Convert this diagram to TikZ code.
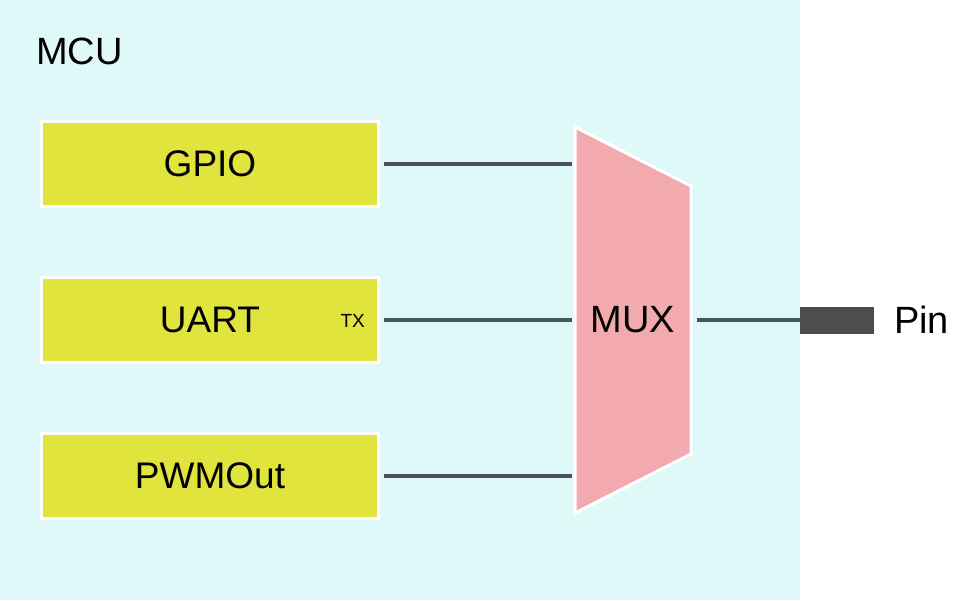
\documentclass[tikz,border=0pt]{standalone}
\usepackage{fontspec}
\setmainfont{Liberation Sans}
\definecolor{bgcyan}{RGB}{223,248,248}
\definecolor{blkyellow}{RGB}{225,228,60}
\definecolor{muxpink}{RGB}{242,170,175}
\definecolor{wire}{RGB}{74,82,94}
\definecolor{pingray}{RGB}{77,77,77}
\begin{document}
\begin{tikzpicture}[x=1pt,y=-1pt,
  blockbox/.style={draw=white,line width=3pt,fill=blkyellow,minimum width=337pt,minimum height=85pt,inner sep=0pt,font=\fontsize{37}{40}\selectfont},
  wireline/.style={draw=wire,line width=4pt},
  bigtext/.style={font=\fontsize{38}{42}\selectfont,inner sep=0pt}]
\useasboundingbox (0,0) rectangle (960,600);
\fill[bgcyan] (0,0) rectangle (800,600);
\node[bigtext,anchor=base west] (mcu) at (36,64) {MCU};
\node[blockbox] (gpio) at (210,164) {GPIO};
\node[blockbox] (uart) at (210,320) {UART};
\node[blockbox] (pwm) at (210,476) {PWMOut};
\node[font=\fontsize{19}{22}\selectfont,inner sep=0pt,anchor=base east] (tx) at (365,327) {TX};
\filldraw[fill=muxpink,draw=white,line width=3pt] (575,127) -- (691,186) -- (691,454) -- (575,513) -- cycle;
\node[bigtext] (mux) at (633,320) {MUX};
\coordinate (m1) at (572,164);
\coordinate (m2) at (572,320);
\coordinate (m3) at (572,476);
\coordinate (mo) at (697,320);
\node[fill=pingray,minimum width=74pt,minimum height=27pt,inner sep=0pt] (pin) at (837,320) {};
\node[bigtext,anchor=base west] (pinlabel) at (894,333) {Pin};
\draw[wireline] ([xshift=4pt]gpio.east) -- (m1);
\draw[wireline] ([xshift=4pt]uart.east) -- (m2);
\draw[wireline] ([xshift=4pt]pwm.east) -- (m3);
\draw[wireline] (mo) -- (pin.west);
\end{tikzpicture}
\end{document}
